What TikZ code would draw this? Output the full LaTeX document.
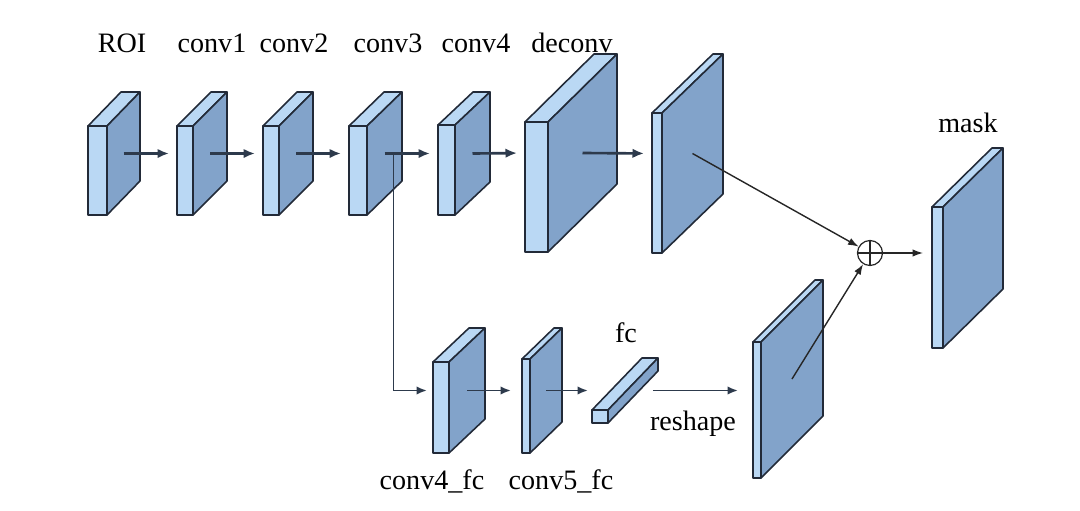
\documentclass[tikz,border=0pt]{standalone}
\usepackage{fontspec}
\setmainfont{Liberation Serif}
\usetikzlibrary{arrows.meta,positioning,calc}
\definecolor{FaceLight}{RGB}{186,216,244}
\definecolor{FaceSide}{RGB}{130,163,202}
\definecolor{EdgeDark}{RGB}{34,42,56}
\definecolor{ArrowGrey}{RGB}{45,58,76}
\tikzset{
  face/.style={draw=EdgeDark,line width=0.9pt,line join=round},
  lightface/.style={face,fill=FaceLight},
  sideface/.style={face,fill=FaceSide},
  flow/.style={-{Latex[length=2.3mm,width=1.9mm]},line width=1.5pt,draw=ArrowGrey,shorten >=0.16cm},
  thinflow/.style={-{Latex[length=2.1mm,width=1.7mm]},line width=1.1pt,draw=ArrowGrey},
  sumflow/.style={-{Latex[length=2.1mm,width=1.5mm]},line width=0.8pt,draw=black!85},
  lbl/.style={font=\fontsize{16}{19}\selectfont,inner sep=0pt,anchor=base},
  sumnode/.style={circle,draw=black!85,line width=0.7pt,minimum size=0.5cm,inner sep=0pt}
}
% \layer{name}{x}{y}{w}{h}{dx}{dy}: front face top-left at (x,y), depth (dx,dy) up-right
\newcommand{\layer}[7]{
  \draw[lightface] (#2,#3) rectangle ++(#4,#5);
  \draw[lightface] (#2,#3) -- ++(#6,-#7) -- ++(#4,0) -- ++(-#6,#7) -- cycle;
  \draw[sideface] (#2+#4,#3) -- ++(#6,-#7) -- ++(0,#5) -- ++(-#6,#7) -- cycle;
  \coordinate (#1-c) at (#2+#4+#6/2,#3+#5/2-#7/2);
  \coordinate (#1-in) at (#2,#3+#5/2-#7/2);
}

\begin{document}
\begin{tikzpicture}[x=0.02cm,y=-0.02cm]
  \useasboundingbox (0,0) rectangle (1080,511);

  % main branch
  \layer{roi}{88}{126}{19}{89}{33}{34}
  \layer{conv1}{177}{126}{16}{89}{34}{34}
  \layer{conv2}{263}{126}{16}{89}{34}{34}
  \layer{conv3}{349}{126}{18}{89}{35}{34}
  \layer{conv4}{438}{125}{17}{90}{35}{33}
  \layer{deconv}{525}{122}{23}{130}{69}{68}
  \layer{dout}{652}{113}{10}{140}{61}{59}
  \layer{mask}{932}{207}{11}{141}{60}{59}

  % fc branch
  \layer{conv4fc}{433}{362}{16}{91}{36}{34}
  \layer{conv5fc}{522}{359}{8}{94}{32}{31}
  \layer{fc}{592}{410}{16}{13}{50}{52}
  \layer{reshp}{753}{342}{8}{136}{62}{62}

  \node[lbl] (roi-t) at (122,52) {ROI};
  \node[lbl] (conv1-t) at (212,52) {conv1};
  \node[lbl] (conv2-t) at (294,52) {conv2};
  \node[lbl] (conv3-t) at (388,52) {conv3};
  \node[lbl] (conv4-t) at (476,52) {conv4};
  \node[lbl] (deconv-t) at (572,52) {deconv};
  \node[lbl] (mask-t) at (968,132) {mask};
  \node[lbl] (fc-t) at (626,342) {fc};
  \node[lbl] (conv4fc-t) at (432,489) {conv4\_fc};
  \node[lbl] (conv5fc-t) at (561,489) {conv5\_fc};

  \draw[flow] (roi-c) -- (conv1-in);
  \draw[flow] (conv1-c) -- (conv2-in);
  \draw[flow] (conv2-c) -- (conv3-in);
  \draw[flow] (conv3-c) -- (conv4-in);
  \draw[flow] (conv4-c) -- (deconv-in);
  \draw[flow] (deconv-c) -- (dout-in);

  \coordinate (split) at ($(conv3-c)+(9,0)$);
  \draw[thinflow,shorten >=0.12cm] (split) |- (conv4fc-in);
  \draw[thinflow,shorten >=0.22cm] (conv4fc-c) -- (conv5fc-in);
  \draw[thinflow,shorten >=0.08cm] (conv5fc-c) -- (fc-in);
  \draw[thinflow,shorten <=0.4cm,shorten >=0.3cm] (fc-c) -- (fc-c -| reshp-in)
    node[lbl,midway,anchor=north,yshift=-0.4cm] (reshape-t) {reshape};

  \node[sumnode] (sum) at (870,253) {};
  \draw[line width=0.7pt,draw=black!85] (sum.north) -- (sum.south) (sum.west) -- (sum.east);
  \draw[sumflow] (dout-c) -- (sum);
  \draw[sumflow] (reshp-c) -- (sum);
  \draw[sumflow,shorten >=0.18cm] (sum) -- (sum -| mask-in);
\end{tikzpicture}
\end{document}
